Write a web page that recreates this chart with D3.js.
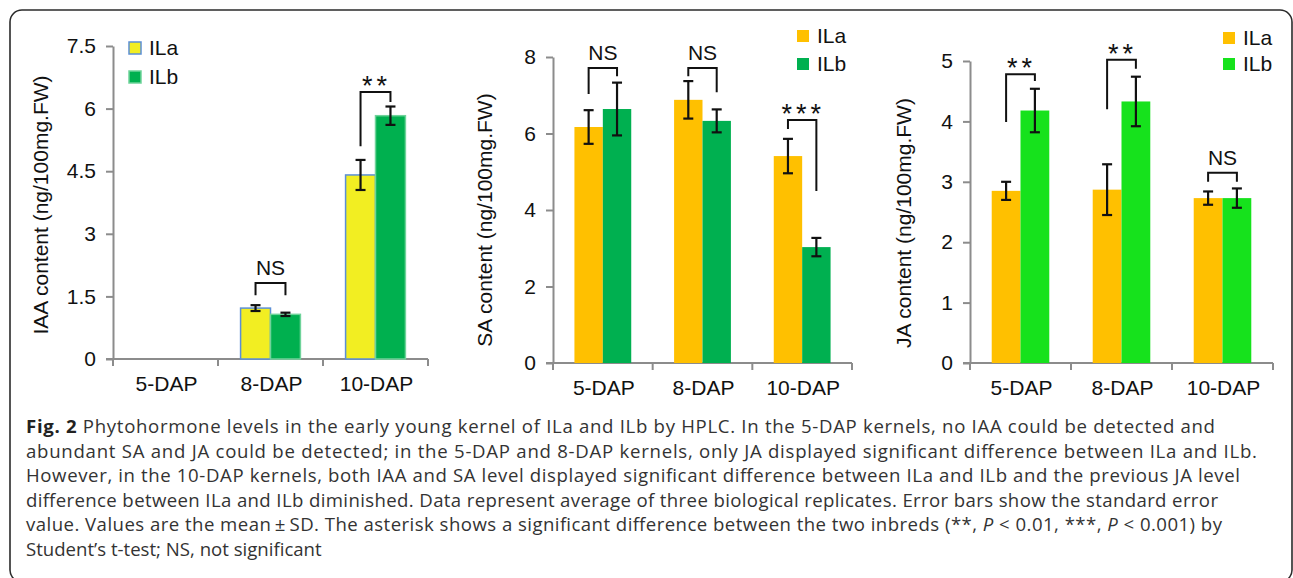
<!DOCTYPE html>
<html lang="en">
<head>
<meta charset="utf-8">
<title>Fig. 2 Phytohormone levels</title>
<script src="https://d3js.org/d3.v7.min.js"></script>
<style>
  body { margin: 0; background: #fff; }
  .chart text { font-family: "Liberation Sans", Arial, sans-serif; fill: #111; }
  .axis path, .axis line { stroke: #8c8c8c; stroke-width: 2; }
  .axis text { font-size: 21px; fill: #111; }
  .caption { font-family: "Open Sans", "Noto Sans", sans-serif; font-size: 18.6px; fill: #333; }
</style>
</head>
<body>
<svg width="1293" height="578"></svg>
<script>
// categories and series
var categories = ["5-DAP", "8-DAP", "10-DAP"];
var series = ["ILa", "ILb"];

// IAA (no IAA detected at 5-DAP)
var iaaILa = [null, 1.22, 4.41];
var iaaILb = [null, 1.07, 5.83];
var iaaILaErr = [null, 0.07, 0.36];
var iaaILbErr = [null, 0.04, 0.22];
var iaaSig = [null, "NS", "**"];
var iaaBracket = [null, [1.82, 1.53, 1.53], [6.40, 5.10, 6.16]]; // top, left end, right end
var iaaTicks = [0, 1.5, 3, 4.5, 6, 7.5];

// SA
var saILa = [6.17, 6.88, 5.41];
var saILb = [6.64, 6.33, 3.03];
var saILaErr = [0.44, 0.49, 0.45];
var saILbErr = [0.69, 0.30, 0.24];
var saSig = ["NS", "NS", "***"];
var saBracket = [[7.71, 7.03, 7.50], [7.71, 7.50, 7.08], [6.35, 6.12, 4.50]];
var saTicks = [0, 2, 4, 6, 8];

// JA
var jaILa = [2.85, 2.87, 2.73];
var jaILb = [4.18, 4.33, 2.73];
var jaILaErr = [0.15, 0.42, 0.11];
var jaILbErr = [0.36, 0.41, 0.16];
var jaSig = ["**", "**", "NS"];
var jaBracket = [[4.78, 3.99, 4.67], [5.02, 4.20, 4.87], [3.15, 3.00, 3.00]];
var jaTicks = [0, 1, 2, 3, 4, 5];

var captionLines = [
  "Phytohormone levels in the early young kernel of ILa and ILb by HPLC. In the 5-DAP kernels, no IAA could be detected and",
  "abundant SA and JA could be detected; in the 5-DAP and 8-DAP kernels, only JA displayed significant difference between ILa and ILb.",
  "However, in the 10-DAP kernels, both IAA and SA level displayed significant difference between ILa and ILb and the previous JA level",
  "difference between ILa and ILb diminished. Data represent average of three biological replicates. Error bars show the standard error",
  "value. Values are the mean\u2009\u00b1\u2009SD. The asterisk shows a significant difference between the two inbreds (**, |P| < 0.01, ***, |P| < 0.001) by",
  "Student\u2019s t-test; NS, not significant"
];

var svg = d3.select("svg");

// outer frame
svg.append("rect")
  .attr("x", 10).attr("y", 10)
  .attr("width", 1282).attr("height", 572)
  .attr("rx", 12)
  .attr("fill", "none")
  .attr("stroke", "#2b2b2b")
  .attr("stroke-width", 1.6);

var panels = [
  { label: "IAA content  (ng/100mg.FW)", labelX: 48, labelY: 205,
    x0: 113, x1: 428, yTop: 46, yBottom: 359, max: 7.5, ticks: iaaTicks,
    a: iaaILa, b: iaaILb, aErr: iaaILaErr, bErr: iaaILbErr, sig: iaaSig, bracket: iaaBracket,
    colA: "#f2ee22", colB: "#00b04f", strokeA: "#5b8fd6", strokeB: "#6fd39a",
    legX: 129, legY: [42, 71] },
  { label: "SA content (ng/100mg.FW)", labelX: 492, labelY: 220,
    x0: 553, x1: 852, yTop: 57, yBottom: 363, max: 8, ticks: saTicks,
    a: saILa, b: saILb, aErr: saILaErr, bErr: saILbErr, sig: saSig, bracket: saBracket,
    colA: "#ffc000", colB: "#00b050", strokeA: "none", strokeB: "none",
    legX: 797, legY: [30, 58] },
  { label: "JA content (ng/100mg.FW)", labelX: 911, labelY: 223,
    x0: 970, x1: 1273, yTop: 61, yBottom: 363, max: 5, ticks: jaTicks,
    a: jaILa, b: jaILb, aErr: jaILaErr, bErr: jaILbErr, sig: jaSig, bracket: jaBracket,
    colA: "#ffc000", colB: "#16e21c", strokeA: "none", strokeB: "none",
    legX: 1223, legY: [32, 58] }
];

panels.forEach(function(p) {
  var g = svg.append("g").attr("class", "chart");

  var x = d3.scaleBand().domain(categories).range([p.x0, p.x1]).padding(0);
  var bw = x.bandwidth();
  var xs = d3.scaleBand().domain(series).range([bw * 0.215, bw * 0.785]).padding(0);
  var y = d3.scaleLinear().domain([0, p.max]).range([p.yBottom, p.yTop]);

  // y axis
  g.append("g")
    .attr("class", "axis")
    .attr("transform", "translate(" + p.x0 + ",0)")
    .call(d3.axisLeft(y).tickValues(p.ticks).tickSize(7).tickSizeOuter(0).tickPadding(10)
      .tickFormat(function(d) { return String(d); }))
    .selectAll("text").attr("font-size", 21);

  // x axis line + boundary ticks
  var xa = g.append("g").attr("class", "axis");
  xa.append("line")
    .attr("x1", p.x0 - 7).attr("x2", p.x1)
    .attr("y1", p.yBottom).attr("y2", p.yBottom);
  var bounds = categories.map(function(c) { return x(c); }).concat([p.x1]);
  xa.selectAll(".bt").data(bounds).enter().append("line")
    .attr("class", "bt")
    .attr("x1", function(d) { return d; }).attr("x2", function(d) { return d; })
    .attr("y1", p.yBottom).attr("y2", p.yBottom + 7);
  xa.selectAll(".cl").data(categories).enter().append("text")
    .attr("class", "cl")
    .attr("x", function(d) { return x(d) + bw / 2 + 1; })
    .attr("y", p.yBottom + 32)
    .attr("text-anchor", "middle")
    .text(function(d) { return d; });

  // y label
  g.append("text")
    .attr("transform", "translate(" + p.labelX + "," + p.labelY + ") rotate(-90)")
    .attr("text-anchor", "middle")
    .attr("font-size", 21)
    .text(p.label);

  // bars
  var rows = [];
  categories.forEach(function(c, i) {
    rows.push({ cat: c, s: "ILa", v: p.a[i], e: p.aErr[i], fill: p.colA, stroke: p.strokeA });
    rows.push({ cat: c, s: "ILb", v: p.b[i], e: p.bErr[i], fill: p.colB, stroke: p.strokeB });
  });
  rows = rows.filter(function(r) { return r.v != null; });

  g.selectAll(".bar").data(rows).enter().append("rect")
    .attr("class", "bar")
    .attr("x", function(d) { return x(d.cat) + xs(d.s); })
    .attr("width", xs.bandwidth())
    .attr("y", function(d) { return y(d.v); })
    .attr("height", function(d) { return y(0) - y(d.v); })
    .attr("fill", function(d) { return d.fill; })
    .attr("stroke", function(d) { return d.stroke; })
    .attr("stroke-width", 1.5);

  // error bars
  var eb = g.selectAll(".err").data(rows).enter().append("g").attr("class", "err")
    .attr("stroke", "#111").attr("stroke-width", 2.2);
  var cx = function(d) { return x(d.cat) + xs(d.s) + xs.bandwidth() / 2; };
  eb.append("line")
    .attr("x1", cx).attr("x2", cx)
    .attr("y1", function(d) { return y(d.v + d.e); })
    .attr("y2", function(d) { return y(d.v - d.e); });
  [1, -1].forEach(function(sgn) {
    eb.append("line")
      .attr("x1", function(d) { return cx(d) - 5; })
      .attr("x2", function(d) { return cx(d) + 5; })
      .attr("y1", function(d) { return y(d.v + sgn * d.e); })
      .attr("y2", function(d) { return y(d.v + sgn * d.e); });
  });

  // significance brackets
  categories.forEach(function(c, i) {
    if (!p.sig[i]) return;
    var br = p.bracket[i];
    var xl = x(c) + xs("ILa") + xs.bandwidth() / 2;
    var xr = x(c) + xs("ILb") + xs.bandwidth() / 2;
    g.append("path")
      .attr("d", "M" + xl + "," + y(br[1]) + "V" + y(br[0]) + "H" + xr + "V" + y(br[2]))
      .attr("fill", "none")
      .attr("stroke", "#111")
      .attr("stroke-width", 2);
    var isStar = p.sig[i].charAt(0) === "*";
    g.append("text")
      .attr("x", (xl + xr) / 2 + (isStar ? 1 : 0))
      .attr("y", y(br[0]) + (isStar ? 3 : -8))
      .attr("text-anchor", "middle")
      .attr("font-size", isStar ? 27 : 21)
      .attr("letter-spacing", isStar ? 4 : 0)
      .text(p.sig[i]);
  });

  // legend
  series.forEach(function(s, k) {
    var ly = p.legY[k];
    g.append("rect")
      .attr("x", p.legX).attr("y", ly)
      .attr("width", 12).attr("height", 12)
      .attr("fill", k === 0 ? p.colA : p.colB)
      .attr("stroke", k === 0 ? p.strokeA : p.strokeB)
      .attr("stroke-width", 1.5);
    g.append("text")
      .attr("x", p.legX + 20)
      .attr("y", ly + 13)
      .attr("font-size", 21)
      .text(s);
  });
});

// caption
var cap = svg.append("g").attr("class", "caption");
var lineEnds = [1215, 1257, 1240, 1218, 1222, null];
captionLines.forEach(function(line, i) {
  var t = cap.append("text")
    .attr("x", 26)
    .attr("y", 433 + i * 24.6);
  if (lineEnds[i]) {
    t.attr("textLength", lineEnds[i] - 26).attr("lengthAdjust", "spacing");
  }
  if (i === 0) {
    t.append("tspan").attr("font-weight", "bold").attr("fill", "#222").text("Fig. 2 ");
  }
  line.split("|").forEach(function(part, k) {
    var ts = t.append("tspan").text(part);
    if (k % 2 === 1) ts.attr("font-style", "italic");
  });
});
</script>
</body>
</html>
